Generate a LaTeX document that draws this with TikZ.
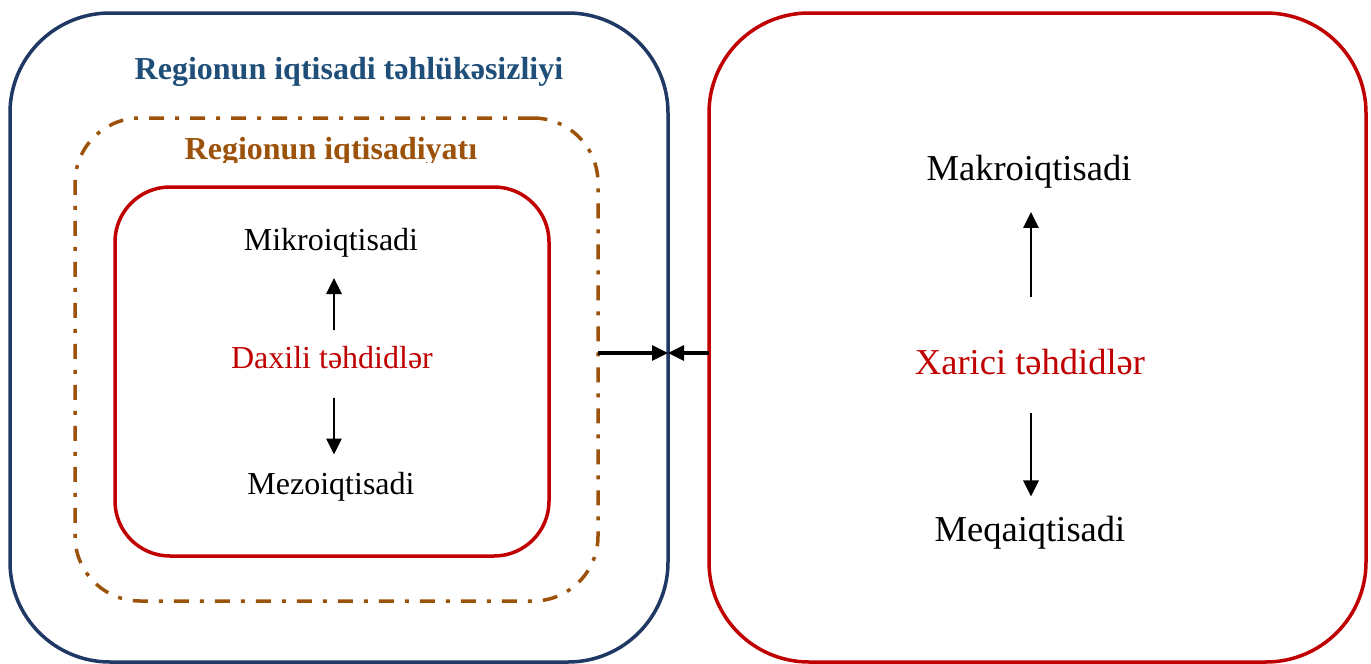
\documentclass[tikz,border=0pt]{standalone}
\usepackage{fontspec}
\setmainfont{Liberation Serif}
\usetikzlibrary{arrows.meta}
\definecolor{navy}{RGB}{31,56,100}
\definecolor{titleblue}{RGB}{31,78,121}
\definecolor{brownc}{RGB}{156,82,10}
\definecolor{redc}{RGB}{192,0,0}
\begin{document}
\begin{tikzpicture}[x=1pt,y=-1pt,
  box/.style={draw, rounded corners=#1, line width=3.5pt, inner sep=0pt, outer sep=0pt},
  dashdot/.style={dash pattern=on 15pt off 11pt on 4pt off 11pt},
  small/.style={anchor=base, inner sep=0pt, font=\fontsize{32}{38}\selectfont},
  big/.style={anchor=base, inner sep=0pt, font=\fontsize{36.5}{44}\selectfont},
  arr/.style={line width=2.8pt, -{Triangle[length=16pt,width=15pt]}},
  midarr/.style={line width=3.2pt, -{Triangle[length=16pt,width=15pt]}}]
\useasboundingbox (0,0) rectangle (1371,664);
% boxes
\node[box=100pt, draw=navy, minimum width=658pt, minimum height=649pt] (outer) at (339,337.5) {};
\node[box=65pt, draw=brownc, dashdot, minimum width=523pt, minimum height=483pt] (econ) at (336.5,359.5) {};
\node[box=55pt, draw=redc, minimum width=434pt, minimum height=369pt] (inner) at (332,371.5) {};
\node[box=100pt, draw=redc, minimum width=657pt, minimum height=649pt] (ext) at (1037.5,337.5) {};
% titles
\node[small, font=\fontsize{32}{38}\selectfont\bfseries, text=titleblue] (title) at (349,79) {Regionun iqtisadi təhlükəsizliyi};
\begin{scope}
\clip (0,0) rectangle (1371,162);
\node[small, font=\fontsize{32}{38}\selectfont\bfseries, text=brownc] (econtitle) at (331,159) {Regionun iqtisadiyatı};
\end{scope}
% left texts
\node[small] (mikro) at (331,250) {Mikroiqtisadi};
\node[small, text=redc] (daxili) at (332,368) {Daxili təhdidlər};
\node[small] (mezo) at (331,494) {Mezoiqtisadi};
% right texts
\node[big] (makro) at (1029,180) {Makroiqtisadi};
\node[big, text=redc] (xarici) at (1030,374) {Xarici təhdidlər};
\node[big] (meqa) at (1030,541) {Meqaiqtisadi};
% arrows
\coordinate (lx) at (334,0);
\coordinate (rx) at (1031,0);
\draw[arr, shorten <=16pt, shorten >=21pt] (daxili.north -| lx) -- (mikro.south -| lx);
\draw[arr, shorten <=29pt, shorten >=17pt] (daxili.south -| lx) -- (mezo.north -| lx);
\draw[arr, shorten <=51pt, shorten >=24pt] (xarici.north -| rx) -- (makro.south -| rx);
\draw[arr, shorten <=38pt, shorten >=19pt] (xarici.south -| rx) -- (meqa.north -| rx);
\coordinate (meet) at (668,353);
\draw[midarr] (econ.east |- meet) -- (meet);
\draw[midarr] (ext.west |- meet) -- (meet);
\end{tikzpicture}
\end{document}
